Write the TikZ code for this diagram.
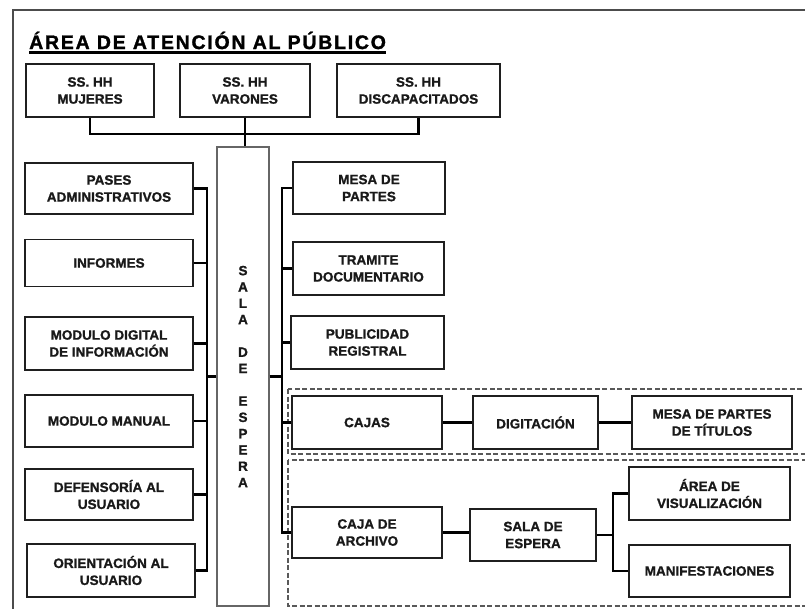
\documentclass[tikz,border=0pt]{standalone}
\usepackage{fontspec}
\setmainfont{Liberation Sans}[BoldFeatures={FakeBold=1.2}]
\newfontfamily\titlefont{Liberation Sans}[LetterSpace=9,BoldFeatures={FakeBold=1.5}]
\newcommand\bxfont{\fontsize{13.5}{17}\selectfont\bfseries}
\begin{document}
\begin{tikzpicture}[x=1pt,y=-1pt,
  box/.style={draw=black!88, line width=1.3pt, fill=white, align=center, inner sep=0pt, font=\bxfont, text=black!90},
  wh/.style 2 args={minimum width=#1, minimum height=#2},
  salabox/.style={draw=black!60, line width=1.3pt, fill=white, align=center, inner sep=0pt, font=\fontsize{13.5}{16.3}\selectfont\bfseries, text=black!90},
  conn/.style={line width=2.4pt, line join=miter, draw=black},
  trunk/.style={conn, line cap=rect},
  dbox/.style={draw=black!65, line width=1.5pt, dash pattern=on 5pt off 2.5pt},
  frame/.style={draw=black!70, line width=2pt}]
\useasboundingbox (0,0) rectangle (805,608);
\clip (0,0) rectangle (805,608);
% frame and dashed groups
\draw[frame] (13,10) rectangle (900,700);
\draw[dbox] (288,389) rectangle (900,454);
\draw[dbox] (288,460) rectangle (900,606);
% title
\node[anchor=base west, inner sep=0pt, font=\titlefont\fontsize{19.5}{22}\selectfont\bfseries] (title) at (29,49) {ÁREA DE ATENCIÓN AL PÚBLICO};
\draw[line width=2.6pt] ([yshift=-3.5pt]title.base west) -- ([yshift=-3.5pt]title.base east);
% top row
\node[box, wh={128}{53}] (muj) at (90,90.5) {SS. HH\\MUJERES};
\node[box, wh={130}{53}] (var) at (245,90.5) {SS. HH\\VARONES};
\node[box, wh={163}{53}] (dis) at (418.5,90.5) {SS. HH\\DISCAPACITADOS};
% sala de espera column
\node[salabox, wh={52}{459}] (sala) at (243,376.5) {S\\A\\L\\A\\~\\D\\E\\~\\E\\S\\P\\E\\R\\A};
% left column
\node[box, wh={168}{51}] (pases) at (109,188.5) {PASES\\ADMINISTRATIVOS};
\node[box, wh={168}{47}] (inf) at (109,263) {INFORMES};
\node[box, wh={168}{53}] (mdi) at (109,343.5) {MODULO DIGITAL\\DE INFORMACIÓN};
\node[box, wh={168}{52}] (mman) at (109,421) {MODULO MANUAL};
\node[box, wh={168}{51}] (def) at (109,494.5) {DEFENSORÍA AL\\USUARIO};
\node[box, wh={168}{53}] (ori) at (111,570.5) {ORIENTACIÓN AL\\USUARIO};
% right column
\node[box, wh={152}{52}] (mesa) at (369,188) {MESA DE\\PARTES};
\node[box, wh={151}{53}] (tram) at (368.5,268.5) {TRAMITE\\DOCUMENTARIO};
\node[box, wh={153}{53}] (pub) at (367.5,342.5) {PUBLICIDAD\\REGISTRAL};
\node[box, wh={150}{53}] (cajas) at (367,422.5) {CAJAS};
\node[box, wh={125}{53}] (dig) at (535.5,422.5) {DIGITACIÓN};
\node[box, wh={160}{53}] (mpt) at (712,422.5) {MESA DE PARTES\\DE TÍTULOS};
\node[box, wh={150}{51}] (carch) at (367,532.5) {CAJA DE\\ARCHIVO};
\node[box, wh={126}{52}] (sesp) at (533,535) {SALA DE\\ESPERA};
\node[box, wh={161}{53}] (avis) at (709.5,493.5) {ÁREA DE\\VISUALIZACIÓN};
\node[box, wh={161}{52}] (manif) at (709.5,571) {MANIFESTACIONES};
% helper coordinates
\coordinate (bus) at (0,134);
\coordinate (lt) at (207,0);
\coordinate (rt) at (282,0);
\coordinate (br) at (613,0);
% top connectors
\draw[conn] (muj.south) -- (muj.south |- bus) -- (dis.south |- bus) -- (dis.south);
\draw[conn] (var.south) -- (var.south |- sala.north);
% left trunk
\draw[trunk] (pases.east -| lt) -- (ori.east -| lt);
\foreach \n in {pases,inf,mdi,mman,def,ori}{\draw[conn] (\n.east) -- (\n.east -| lt);}
\draw[conn] (sala.west) -- (sala.west -| lt);
% right trunk
\draw[trunk] (mesa.west -| rt) -- (carch.west -| rt);
\foreach \n in {mesa,tram,pub,cajas,carch}{\draw[conn] (\n.west) -- (\n.west -| rt);}
\draw[conn] (sala.east) -- (sala.east -| rt);
% chains
\draw[conn] (cajas.east) -- (cajas.east -| dig.west);
\draw[conn] (dig.east) -- (dig.east -| mpt.west);
\draw[conn] (carch.east) -- (carch.east -| sesp.west);
\draw[conn] (sesp.east) -- (sesp.east -| br);
\draw[trunk] (avis.west -| br) -- (manif.west -| br);
\draw[conn] (avis.west) -- (avis.west -| br);
\draw[conn] (manif.west) -- (manif.west -| br);
\end{tikzpicture}
\end{document}
